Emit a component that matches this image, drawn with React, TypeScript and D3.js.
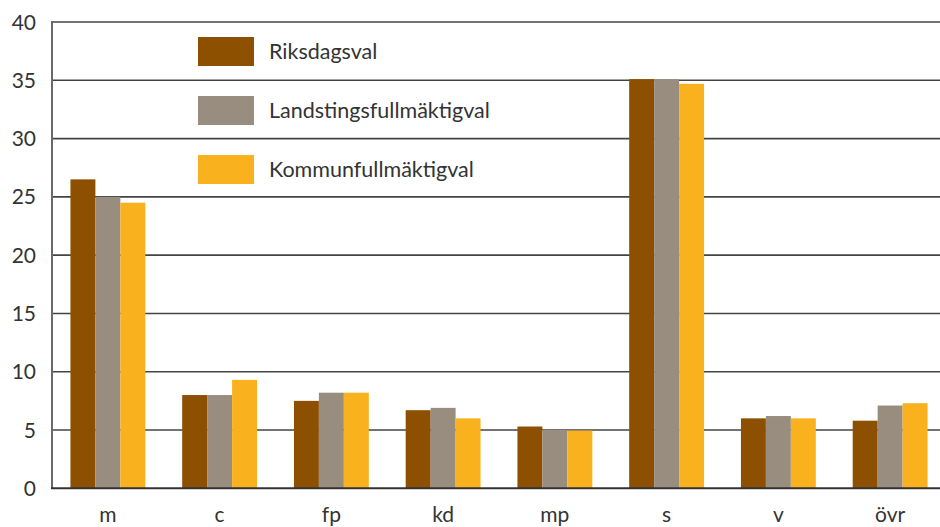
import * as d3 from 'd3';

const categories = ['m', 'c', 'fp', 'kd', 'mp', 's', 'v', 'övr'];
const seriesNames = ['Riksdagsval', 'Landstingsfullmäktigval', 'Kommunfullmäktigval'];
const riksdag = [26.5, 8.0, 7.5, 6.7, 5.3, 35.1, 6.0, 5.8];
const landsting = [25.0, 8.0, 8.2, 6.9, 5.0, 35.1, 6.2, 7.1];
const kommun = [24.5, 9.3, 8.2, 6.0, 4.95, 34.7, 6.0, 7.3];
const yTicks = [0, 5, 10, 15, 20, 25, 30, 35, 40];
const colors = ['#8c5000', '#998d80', '#f9b11e'];

const width = 940;
const height = 527;
const font = 'Lato, "Open Sans", sans-serif';

export default function App() {
  const values = [riksdag, landsting, kommun];

  const x0 = d3
    .scaleBand()
    .domain(categories)
    .range([52, 946])
    .paddingInner(0.33)
    .paddingOuter(0.165);
  const x1 = d3.scaleBand().domain(seriesNames).range([0, x0.bandwidth()]);
  const y = d3.scaleLinear().domain([0, 40]).range([488.3, 22]);

  return (
    <svg
      width={width}
      height={height}
      style={{ position: 'absolute', left: 0, top: 0, background: '#fff' }}
    >
      {/* gridlines under the bars */}
      {yTicks
        .filter((t) => t > 0)
        .map((t) => (
          <line
            key={t}
            x1={52}
            x2={width}
            y1={y(t)}
            y2={y(t)}
            stroke="#444"
            strokeWidth={1.6}
          />
        ))}

      {categories.map((c, i) => (
        <g key={c} transform={`translate(${x0(c)},0)`}>
          {seriesNames.map((s, j) => (
            <rect
              key={s}
              x={x1(s)}
              y={y(values[j][i])}
              width={x1.bandwidth()}
              height={y(0) - y(values[j][i])}
              fill={colors[j]}
            />
          ))}
        </g>
      ))}

      {/* axes */}
      <line x1={52} x2={52} y1={y(40) - 1} y2={y(0)} stroke="#6a6a6a" strokeWidth={2} />
      <line x1={51} x2={width} y1={y(0)} y2={y(0)} stroke="#333" strokeWidth={2} />

      {yTicks.map((t) => (
        <text
          key={t}
          x={36}
          y={y(t)}
          dy="0.36em"
          textAnchor="end"
          fontFamily={font}
          fontSize={21}
          fill="#333"
        >
          {t}
        </text>
      ))}

      {categories.map((c) => (
        <text
          key={c}
          x={(x0(c) ?? 0) + x0.bandwidth() / 2}
          y={522}
          textAnchor="middle"
          fontFamily={font}
          fontSize={21}
          fill="#333"
        >
          {c}
        </text>
      ))}

      {/* legend */}
      {seriesNames.map((s, j) => (
        <g key={s} transform={`translate(198,${37 + j * 59})`}>
          <rect width={56} height={29} fill={colors[j]} />
          <text x={71} y={14.5} dy="0.36em" fontFamily={font} fontSize={21.5} fill="#333">
            {s}
          </text>
        </g>
      ))}
    </svg>
  );
}
